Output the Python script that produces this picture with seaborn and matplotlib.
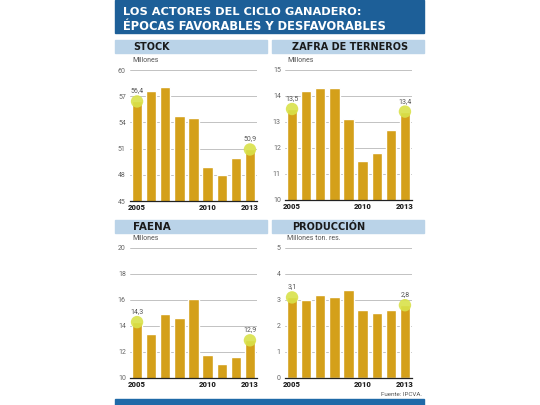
import matplotlib
matplotlib.use("Agg")
import matplotlib.pyplot as plt
import seaborn as sns
import pandas as pd
from matplotlib.patches import Rectangle
from matplotlib import font_manager

sns.set_theme(style="white")

# pick a condensed bold font if one is installed, else Roboto
cond_family = None
for f in font_manager.fontManager.ttflist:
    nm = f.name.lower()
    if ("narrow" in nm or "condensed" in nm or str(f.stretch).lower() in ("condensed", "semi-condensed")) \
            and "mono" not in nm:
        cond_family = f.name
        break
HEAD_FONT = cond_family if cond_family else "Roboto"
plt.rcParams['font.family'] = ['Roboto', 'DejaVu Sans']

years = [str(y) for y in range(2005, 2014)]
shown_years = ["2005", "2010", "2013"]

stock = [56.4, 57.6, 58.0, 54.7, 54.5, 48.9, 48.0, 49.9, 50.9]
zafra = [13.5, 14.2, 14.3, 14.3, 13.1, 11.5, 11.8, 12.7, 13.4]
faena = [14.3, 13.4, 14.9, 14.6, 16.1, 11.8, 11.1, 11.6, 12.9]
produccion = [3.1, 3.0, 3.2, 3.1, 3.4, 2.6, 2.5, 2.6, 2.8]

titles = ["STOCK", "ZAFRA DE TERNEROS", "FAENA", "PRODUCCIÓN"]
units = ["Millones", "Millones", "Millones", "Millones ton. res."]
yticks = [[45, 48, 51, 54, 57, 60], [10, 11, 12, 13, 14, 15],
          [10, 12, 14, 16, 18, 20], [0, 1, 2, 3, 4, 5]]
series = [stock, zafra, faena, produccion]

BAR = "#d4a01a"
DOT = "#d9e24a"
DARK_BLUE = "#1d5f98"
LIGHT_BLUE = "#bad3e8"
GRID = "#b8b8b8"

W, H = 540, 405
fig = plt.figure(figsize=(5.4, 4.05), dpi=100)
fig.patch.set_facecolor("white")
renderer = fig.canvas.get_renderer()

def px_rect(x0, y0, x1, y1):
    return [x0 / W, 1 - y1 / H, (x1 - x0) / W, (y1 - y0) / H]

def fit_text(x, y, s, width_px, max_size, **kw):
    t = fig.text(x / W, 1 - y / H, s, fontsize=max_size, family=[HEAD_FONT, 'DejaVu Sans'],
                 fontweight=900, va="center", ha="left", **kw)
    w = t.get_window_extent(renderer=renderer).width
    if w > width_px:
        t.set_fontsize(max_size * width_px / w)
    return t

# Title box
fig.patches.append(Rectangle((115 / W, 1 - 33 / H), (424 - 115) / W, 33 / H,
                             transform=fig.transFigure, color=DARK_BLUE, zorder=0))
fit_text(123, 12, "LOS ACTORES DEL CICLO GANADERO:", 238, 11, color="white")
fit_text(123, 26, "ÉPOCAS FAVORABLES Y DESFAVORABLES", 264, 11, color="white")

# bottom bar
fig.patches.append(Rectangle((115 / W, 0), (424 - 115) / W, 6 / H,
                             transform=fig.transFigure, color="#1f6aa8", zorder=0))
fig.text(422 / W, 1 - 394 / H, "Fuente: IPCVA.", color="#555555", fontsize=4.5,
         ha="right", va="center")

panels = [
    (130, 70, 257, 201, 115, 40, 267, 53, 133, 29),
    (285, 70, 412, 200, 272, 40, 424, 53, 292, 93),
    (130, 248, 257, 378, 115, 220, 267, 233, 133, 30),
    (285, 248, 412, 378, 272, 220, 424, 233, 292, 58),
]

for i, (ax0, ay0, ax1, ay1, hx0, hy0, hx1, hy1, tx, tw) in enumerate(panels):
    fig.patches.append(Rectangle((hx0 / W, 1 - hy1 / H), (hx1 - hx0) / W, (hy1 - hy0) / H,
                                 transform=fig.transFigure, color=LIGHT_BLUE, zorder=0))
    fit_text(tx, (hy0 + hy1) / 2, titles[i], tw * 1.25, 9, color="#1a1a1a")
    fig.text((ax0 + 2) / W, 1 - (ay0 - 9) / H, units[i], color="#555555",
             fontsize=5, va="center", ha="left")

    ax = fig.add_axes(px_rect(ax0, ay0, ax1, ay1))
    df = pd.DataFrame({"year": years, "value": series[i]})
    sns.barplot(data=df, x="year", y="value", ax=ax, color=BAR, width=0.74,
                saturation=1, zorder=2, order=years)
    yt = yticks[i]
    ax.set_ylim(yt[0], yt[-1])
    ax.set_xlim(-0.5, 8.5)
    ax.set_yticks(yt)
    ax.set_yticklabels([str(v) for v in yt], color="#666666", fontsize=5)
    ax.set_xticks([years.index(y) for y in shown_years])
    ax.set_xticklabels(shown_years, fontsize=5.5, fontweight=900, color="#222222")
    ax.tick_params(axis="y", length=0, pad=3)
    ax.tick_params(axis="x", length=0, pad=2)
    ax.set_xlabel("")
    ax.set_ylabel("")
    for v in yt[1:]:
        ax.axhline(v, color=GRID, lw=0.6, zorder=1)
    for s in ["top", "right", "left"]:
        ax.spines[s].set_visible(False)
    ax.spines["bottom"].set_color("#222222")
    ax.spines["bottom"].set_linewidth(0.9)
    ax.spines["bottom"].set_zorder(4)
    ax.set_facecolor("none")

    for idx in (0, len(years) - 1):
        val = series[i][idx]
        ax.scatter([idx], [val], s=80, color=DOT, alpha=0.9, zorder=3,
                   marker="o", edgecolors="none")
        ax.annotate(f"{val:.1f}".replace(".", ","), (idx, val), xytext=(0, 5),
                    textcoords="offset points", ha="center", va="bottom",
                    fontsize=5, color="#555555", zorder=5)

fig.savefig("out.png", dpi=100, facecolor="white")
